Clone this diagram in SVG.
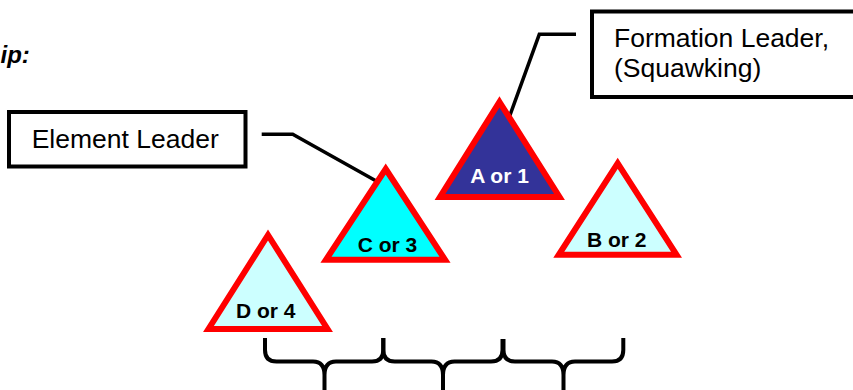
<svg xmlns="http://www.w3.org/2000/svg" width="853" height="390" viewBox="0 0 853 390">
<style>
.box{fill:#fff;stroke:#000;stroke-width:4}
.lbl{font-family:"Liberation Sans",Arial,sans-serif;font-size:26.5px;fill:#000}
.lead{fill:none;stroke:#000;stroke-width:3.5}
.brace{fill:none;stroke:#000;stroke-width:4}
.tri{stroke:#f00;stroke-width:6;stroke-linejoin:miter;stroke-miterlimit:10}
.tl{font-family:"Liberation Sans",Arial,sans-serif;font-size:21px;font-weight:bold;text-anchor:middle;fill:#000}
</style>
<rect width="853" height="390" fill="#fff"/>
<text x="0.5" y="63" style="font-family:'Liberation Sans',Arial,sans-serif;font-size:24px;font-weight:bold;font-style:italic">ip:</text>
<g id="connectors">
<path class="lead" d="M576,34.3 L539.3,34.3 L509,118"/>
<path class="lead" d="M261.7,134.3 L292.7,134.3 L378,182"/>
</g>
<g id="braces">
<path class="brace" d="M265,338 L265,350 Q265,361.5 276.5,361.5 L313,361.5 Q324.5,361.5 324.5,375 L324.5,392 M324.5,375 Q324.5,361.5 336,361.5 L372,361.5 Q383.3,361.5 383.3,350 L383.3,338"/>
<path class="brace" d="M383.3,338 L383.3,350 Q383.3,361.5 394.8,361.5 L431.5,361.5 Q443,361.5 443,375 L443,392 M443,375 Q443,361.5 454.5,361.5 L491,361.5 Q502.5,361.5 502.5,350 L502.5,339"/>
<path class="brace" d="M503.5,339 L503.5,350 Q503.5,361.5 515,361.5 L552,361.5 Q563.5,361.5 563.5,375 L563.5,392 M563.5,375 Q563.5,361.5 575,361.5 L612,361.5 Q623.3,361.5 623.3,350 L623.3,338"/>
</g>
<g id="formation-leader-box">
<rect class="box" x="592" y="11.5" width="300" height="85.5"/>
<text class="lbl" x="614" y="46.7">Formation Leader,</text>
<text class="lbl" x="614" y="77.3">(Squawking)</text>
</g>
<g id="element-leader-box">
<rect class="box" x="9" y="112" width="236.5" height="54.5"/>
<text class="lbl" x="31.7" y="148.3">Element Leader</text>
</g>
<g id="node-a">
<path class="tri" fill="#333399" d="M499.5,102 L559.5,197 L440,197 Z"/>
<text class="tl" x="499.5" y="183.3" style="fill:#fff">A or 1</text>
</g>
<g id="node-c">
<path class="tri" fill="#00ffff" d="M385.7,169 L445,259.7 L326,259.7 Z"/>
<text class="tl" x="387.5" y="251.7">C or 3</text>
</g>
<g id="node-d">
<path class="tri" fill="#ccffff" d="M268,235 L327.5,329 L208.5,329 Z"/>
<text class="tl" x="265.8" y="317.7">D or 4</text>
</g>
<g id="node-b">
<path class="tri" fill="#ccffff" d="M617.7,163.3 L676.5,254.7 L558.8,254.7 Z"/>
<text class="tl" x="616.7" y="246.7">B or 2</text>
</g>
</svg>
